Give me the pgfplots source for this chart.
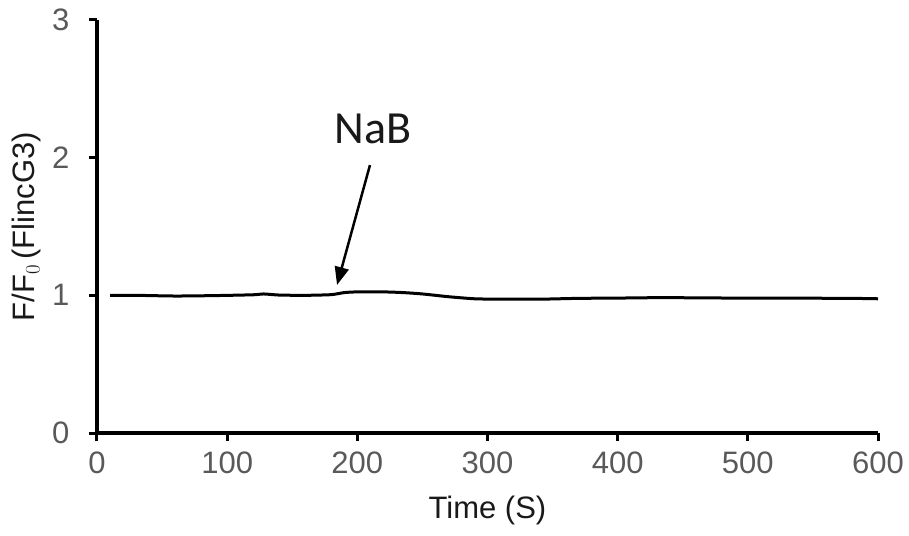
\documentclass[border=0pt]{standalone}
\usepackage{fontspec}
\setmainfont{Liberation Sans}
\newfontfamily\calib{Carlito}
\usepackage{pgfplots}
\pgfplotsset{compat=1.18}
\usetikzlibrary{arrows.meta,calc}
\definecolor{tickgray}{RGB}{89,89,89}

\begin{document}
\begin{tikzpicture}
\begin{axis}[
  scale only axis,
  width=781pt, height=413pt,
  xmin=0, xmax=600, ymin=0, ymax=3,
  axis lines=left,
  axis line style={line width=3.5pt, -},
  xtick={0,100,...,600},
  ytick={0,1,2,3},
  tick align=outside,
  major tick length=8pt,
  tick style={line width=3pt, black},
  /pgf/number format/assume math mode=true,
  ticklabel style={font=\fontsize{31}{36}\selectfont, text=tickgray},
  xticklabel style={yshift=-7pt},
  yticklabel style={xshift=-16pt},
  xlabel={Time (S)},
  ylabel={F/F$_0$\,(FlincG3)},
  label style={font=\fontsize{31}{36}\selectfont, text=black!90},
  xlabel style={yshift=-16pt},
  ylabel style={yshift=4pt},
  clip=false,
]
\addplot[line width=3pt, black, line join=round, smooth, tension=0.4] coordinates {
 (10,1.000) (30,1.000) (60,0.995) (90,0.998) (120,1.004) (128,1.010)
 (140,1.002) (160,1.000) (180,1.005) (190,1.020) (200,1.025) (220,1.025)
 (235,1.020) (250,1.010) (270,0.990) (290,0.975) (310,0.972) (340,0.972)
 (370,0.978) (400,0.980) (430,0.983) (460,0.982) (490,0.980) (520,0.980)
 (550,0.979) (580,0.978) (600,0.975)
};
\draw[line width=2.5pt, -{Triangle[length=18pt,width=14pt]}] (axis cs:209.7,1.946) -- (axis cs:184.4,1.075);
\node[font=\calib\fontsize{46}{50}\selectfont, text=black!90] at (axis cs:212,2.21) {NaB};
\coordinate (o) at (axis cs:0,0);
\end{axis}
\path ($(o)+(-97pt,-102pt)$) rectangle ++(909pt,535pt);
\end{tikzpicture}
\end{document}
